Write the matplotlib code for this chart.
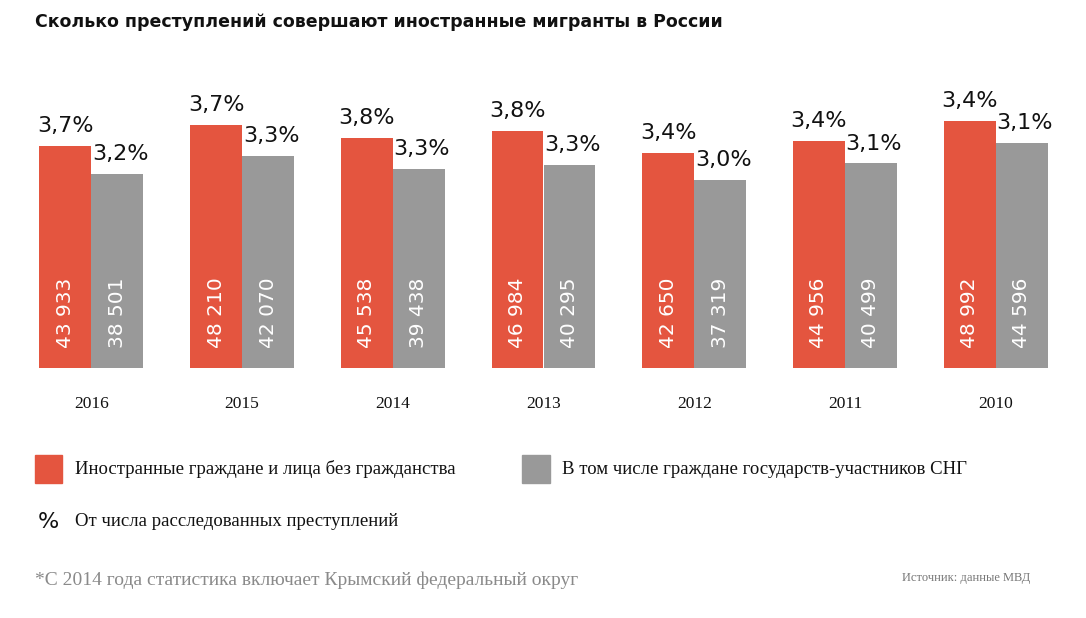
import matplotlib
matplotlib.use('Agg')
import matplotlib.pyplot as plt
import numpy as np

# данные
years = ['2016', '2015', '2014', '2013', '2012', '2011', '2010']
foreign = [43933, 48210, 45538, 46984, 42650, 44956, 48992]
cis = [38501, 42070, 39438, 40295, 37319, 40499, 44596]
foreign_pct = ['3,7%', '3,7%', '3,8%', '3,8%', '3,4%', '3,4%', '3,4%']
cis_pct = ['3,2%', '3,3%', '3,3%', '3,3%', '3,0%', '3,1%', '3,1%']

RED = '#e4553f'
GRAY = '#999999'
SANS = 'DejaVu Sans'
SERIF = 'Liberation Serif'

def fmt(v):
    return f'{v:,}'.replace(',', ' ')

fig = plt.figure(figsize=(10.86, 6.18), dpi=100)
ax = fig.add_axes([16 / 1086, 250 / 618, 1055 / 1086, 303 / 618])

x = np.arange(len(years))
w = 0.345
ax.bar(x - w / 2, foreign, w, color=RED)
ax.bar(x + w / 2, cis, w, color=GRAY)

ax.set_xlim(-0.5, len(years) - 0.5)
ax.set_ylim(0, 60000)
ax.axis('off')

# подписи столбцов
for xi, v, p in zip(x - w / 2, foreign, foreign_pct):
    ax.annotate(fmt(v), (xi, 0), xytext=(0, 14.4), textcoords='offset points',
                rotation=90, ha='center', va='bottom', color='white',
                fontsize=14.5, family=SANS)
    ax.annotate(p, (xi, v), xytext=(0, 10), textcoords='offset points',
                ha='center', va='baseline', color='#111111', fontsize=16, family=SANS)

for xi, v, p in zip(x + w / 2, cis, cis_pct):
    ax.annotate(fmt(v), (xi, 0), xytext=(0, 14.4), textcoords='offset points',
                rotation=90, ha='center', va='bottom', color='white',
                fontsize=14.5, family=SANS)
    ax.annotate(p, (xi + 0.02, v), xytext=(0, 10), textcoords='offset points',
                ha='center', va='baseline', color='#111111', fontsize=16, family=SANS)

for xi, y in zip(x, years):
    ax.annotate(y, (xi, 0), xytext=(0, -26), textcoords='offset points',
                ha='center', va='center', fontsize=12.5, family=SERIF, color='#111111')

# заголовок
fig.text(35 / 1086, 1 - 22 / 618, 'Сколько преступлений совершают иностранные мигранты в России',
         fontsize=12.5, fontweight='bold', family=SANS, va='center', ha='left', color='#111111')

# легенда
fig.patches.append(plt.Rectangle((35 / 1086, 1 - 483 / 618), 27 / 1086, 28 / 618,
                                 transform=fig.transFigure, color=RED))
fig.text(75 / 1086, 1 - 469 / 618, 'Иностранные граждане и лица без гражданства',
         fontsize=13.5, family=SERIF, va='center', ha='left', color='#111111')
fig.patches.append(plt.Rectangle((522 / 1086, 1 - 483 / 618), 28 / 1086, 28 / 618,
                                 transform=fig.transFigure, color=GRAY))
fig.text(562 / 1086, 1 - 469 / 618, 'В том числе граждане государств-участников СНГ',
         fontsize=13.5, family=SERIF, va='center', ha='left', color='#111111')
fig.text(38 / 1086, 1 - 522 / 618, '%', fontsize=16, family=SANS, va='center', ha='left',
         color='#111111')
fig.text(75 / 1086, 1 - 521 / 618, 'От числа расследованных преступлений',
         fontsize=13.5, family=SERIF, va='center', ha='left', color='#111111')

# сноски
fig.text(35 / 1086, 1 - 580 / 618, '*С 2014 года статистика включает Крымский федеральный округ',
         fontsize=14, family=SERIF, va='center', ha='left', color='#8a8a8a')
fig.text(1030 / 1086, 1 - 578 / 618, 'Источник: данные МВД',
         fontsize=9, family=SERIF, va='center', ha='right', color='#777777')

fig.savefig('out.png', dpi=100)
